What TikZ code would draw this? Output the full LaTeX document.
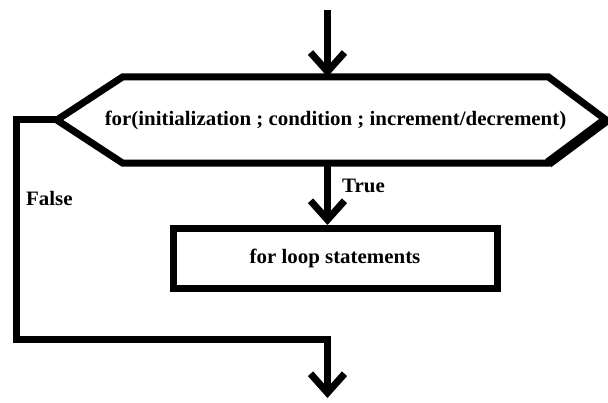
\documentclass[tikz,border=0pt]{standalone}
\usepackage{fontspec}
\setmainfont{Liberation Serif}
\usetikzlibrary{arrows.meta,calc}
\newcommand\widetext[1]{\scalebox{1.02}[1]{\bfseries #1}}

\begin{document}
\begin{tikzpicture}[x=1pt,y=-1pt,
  flow/.style={line width=7pt},
  arr/.style={flow,-{Straight Barb[length=19pt,width=34pt]}},
  lbl/.style={font=\fontsize{20.5}{23}\selectfont, inner sep=0pt},
]
\useasboundingbox[fill=white] (0,0) rectangle (608,403);

% decision: the for header (text may run past the flat edges)
\node[lbl, minimum width=425pt, minimum height=86pt] (cond) at (335.5,120)
  {\makebox[0pt]{\widetext{for(initialization ; condition ; increment/decrement)}}};
\coordinate (condL) at ($(cond.west)+(-66,0)$);
\coordinate (condR) at ($(cond.east)+(58,0)$);
\draw[flow, line join=miter] (cond.north west) -- (cond.north east) -- (condR)
  -- (cond.south east) -- (cond.south west) -- (condL) -- cycle;
\draw[line width=10pt] (condR) -- (cond.south east);

% loop body
\node[lbl, draw, flow, minimum width=324pt, minimum height=60pt] (body) at (335,258.5)
  {\widetext{for loop statements}};

% entry and exit points
\coordinate (entry) at (327.5,10);
\coordinate (merge) at (327.5,340);
\coordinate (exit) at (327.5,398);

% connectors
\draw[arr] (entry) -- (entry |- cond.north);
\draw[arr] (cond.south -| entry) -- (body.north -| entry);
\draw[arr, line join=miter] (condL) -- ($(condL)+(-40,0)$) |- (merge) -- (exit);

% branch labels
\node[lbl, anchor=west] (tlabel) at (342,186) {\widetext{True}};
\node[lbl, anchor=west] (flabel) at (26,198) {\widetext{False}};
\end{tikzpicture}
\end{document}
